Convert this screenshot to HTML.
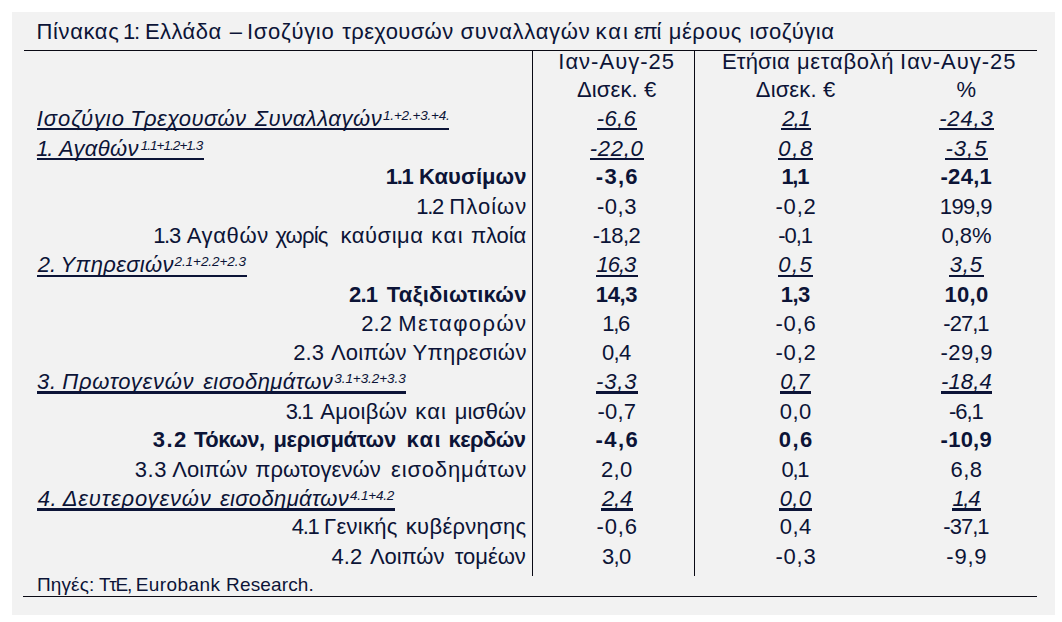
<!DOCTYPE html>
<html lang="el"><head><meta charset="utf-8"><title>Πίνακας 1</title>
<style>
html,body{margin:0;padding:0;background:#fff;}
body{width:1062px;height:622px;position:relative;overflow:hidden;font-family:"Liberation Sans", sans-serif;color:#0c1437;}
.panel{position:absolute;left:12px;top:12px;width:1043px;height:603px;background:#f2f2f2;}
.t{position:absolute;white-space:nowrap;height:30px;line-height:30px;margin:0;padding:0;}
.i{font-style:italic}.b{font-weight:bold}
.ln{position:absolute;background:#0a0a14;}
.ul{position:absolute;background:#0c1437;height:2.3px;}
</style></head><body>
<div class="panel"></div>
<div class="ln" style="left:24px;top:49.9px;width:1013px;height:1.1px"></div>
<div class="ln" style="left:23px;top:595.7px;width:1014px;height:1.6px"></div>
<div class="ln" style="left:532px;top:50px;width:1px;height:526px"></div>
<div class="ln" style="left:694.2px;top:50px;width:1px;height:526px"></div>
<div class="t" style="left:36.61px;top:17px;font-size:22px;letter-spacing:0.596px">Πίνακας</div>
<div class="t" style="left:123.05px;top:17px;font-size:22px;letter-spacing:-1.300px">1:</div>
<div class="t" style="left:145.01px;top:17px;font-size:22px;letter-spacing:0.427px">Ελλάδα</div>
<div class="t" style="left:229.69px;top:17px;font-size:22px;letter-spacing:0.000px">–</div>
<div class="t" style="left:246.89px;top:17px;font-size:22px;letter-spacing:0.720px">Ισοζύγιο</div>
<div class="t" style="left:342.21px;top:17px;font-size:22px;letter-spacing:0.367px">τρεχουσών</div>
<div class="t" style="left:460.52px;top:17px;font-size:22px;letter-spacing:0.692px">συναλλαγών</div>
<div class="t" style="left:595.40px;top:17px;font-size:22px;letter-spacing:2.043px">και</div>
<div class="t" style="left:634.10px;top:17px;font-size:22px;letter-spacing:-1.300px">επί</div>
<div class="t" style="left:668.70px;top:17px;font-size:22px;letter-spacing:0.569px">μέρους</div>
<div class="t" style="left:749.60px;top:17px;font-size:22px;letter-spacing:0.463px">ισοζύγια</div>
<div class="t" style="left:558.29px;top:47px;font-size:22px;letter-spacing:1.004px">Ιαν-Αυγ-25</div>
<div class="t" style="left:576.90px;top:75px;font-size:22px;letter-spacing:0.139px">Δισεκ. €</div>
<div class="t" style="left:721.91px;top:47px;font-size:22px;letter-spacing:0.195px">Ετήσια</div>
<div class="t" style="left:796.90px;top:47px;font-size:22px;letter-spacing:0.746px">μεταβολή</div>
<div class="t" style="left:900.09px;top:47px;font-size:22px;letter-spacing:0.960px">Ιαν-Αυγ-25</div>
<div class="t" style="left:755.80px;top:75px;font-size:22px;letter-spacing:0.139px">Δισεκ. €</div>
<div class="t" style="left:956.58px;top:75px;font-size:22px;letter-spacing:0.000px">%</div>
<div class="t" style="left:36.88px;top:570px;font-size:19px;letter-spacing:0.127px">Πηγές:</div>
<div class="t" style="left:99.00px;top:570px;font-size:19px;letter-spacing:-1.300px">ΤτΕ,</div>
<div class="t" style="left:135.68px;top:570px;font-size:19px;letter-spacing:0.426px">Eurobank</div>
<div class="t" style="left:226.08px;top:570px;font-size:19px;letter-spacing:0.143px">Research.</div>
<div class="t i" style="left:36.82px;top:104px;font-size:22px;letter-spacing:0.916px">Ισοζύγιο</div>
<div class="t i" style="left:130.16px;top:104px;font-size:22px;letter-spacing:0.343px">Τρεχουσών</div>
<div class="t i" style="left:254.78px;top:104px;font-size:22px;letter-spacing:0.567px">Συναλλαγών</div>
<div class="t i" style="left:383.00px;top:101px;font-size:13.5px;letter-spacing:-0.183px">1.+2.+3.+4.</div>
<div class="t i" style="left:36.25px;top:134px;font-size:22px;letter-spacing:-1.300px">1.</div>
<div class="t i" style="left:58.93px;top:134px;font-size:22px;letter-spacing:0.333px">Αγαθών</div>
<div class="t i" style="left:140.70px;top:131px;font-size:13.5px;letter-spacing:-0.960px">1.1+1.2+1.3</div>
<div class="t i" style="left:37.81px;top:250px;font-size:22px;letter-spacing:-0.117px">2.</div>
<div class="t i" style="left:60.51px;top:250px;font-size:22px;letter-spacing:0.360px">Υπηρεσιών</div>
<div class="t i" style="left:174.48px;top:247px;font-size:13.5px;letter-spacing:-0.058px">2.1+2.2+2.3</div>
<div class="t i" style="left:36.97px;top:367px;font-size:22px;letter-spacing:0.722px">3.</div>
<div class="t i" style="left:62.32px;top:367px;font-size:22px;letter-spacing:0.718px">Πρωτογενών</div>
<div class="t i" style="left:203.21px;top:367px;font-size:22px;letter-spacing:0.438px">εισοδημάτων</div>
<div class="t i" style="left:334.25px;top:364px;font-size:13.5px;letter-spacing:-0.065px">3.1+3.2+3.3</div>
<div class="t i" style="left:37.71px;top:484px;font-size:22px;letter-spacing:0.678px">4.</div>
<div class="t i" style="left:62.70px;top:484px;font-size:22px;letter-spacing:0.862px">Δευτερογενών</div>
<div class="t i" style="left:219.91px;top:484px;font-size:22px;letter-spacing:0.378px">εισοδημάτων</div>
<div class="t i" style="left:350.06px;top:481px;font-size:13.5px;letter-spacing:-0.186px">4.1+4.2</div>
<div class="t b" style="left:385.80px;top:162px;font-size:22px;letter-spacing:-1.300px">1.1</div>
<div class="t b" style="left:419.10px;top:162px;font-size:22px;letter-spacing:0.024px">Καυσίμων</div>
<div class="t" style="left:416.30px;top:192px;font-size:22px;letter-spacing:-1.300px">1.2</div>
<div class="t" style="left:449.31px;top:192px;font-size:22px;letter-spacing:1.035px">Πλοίων</div>
<div class="t" style="left:153.20px;top:221px;font-size:22px;letter-spacing:-1.300px">1.3</div>
<div class="t" style="left:186.73px;top:221px;font-size:22px;letter-spacing:0.627px">Αγαθών</div>
<div class="t" style="left:275.40px;top:221px;font-size:22px;letter-spacing:-0.778px">χωρίς</div>
<div class="t" style="left:340.50px;top:221px;font-size:22px;letter-spacing:0.531px">καύσιμα</div>
<div class="t" style="left:431.20px;top:221px;font-size:22px;letter-spacing:1.593px">και</div>
<div class="t" style="left:470.96px;top:221px;font-size:22px;letter-spacing:-0.117px">πλοία</div>
<div class="t b" style="left:349.02px;top:280px;font-size:22px;letter-spacing:-0.867px">2.1</div>
<div class="t b" style="left:386.83px;top:280px;font-size:22px;letter-spacing:0.238px">Ταξιδιωτικών</div>
<div class="t" style="left:361.36px;top:309px;font-size:22px;letter-spacing:0.015px">2.2</div>
<div class="t" style="left:398.31px;top:309px;font-size:22px;letter-spacing:1.407px">Μεταφορών</div>
<div class="t" style="left:293.36px;top:338px;font-size:22px;letter-spacing:0.015px">2.3</div>
<div class="t" style="left:331.03px;top:338px;font-size:22px;letter-spacing:0.111px">Λοιπών</div>
<div class="t" style="left:412.51px;top:338px;font-size:22px;letter-spacing:0.354px">Υπηρεσιών</div>
<div class="t" style="left:285.75px;top:397px;font-size:22px;letter-spacing:-1.300px">3.1</div>
<div class="t" style="left:320.23px;top:397px;font-size:22px;letter-spacing:0.259px">Αμοιβών</div>
<div class="t" style="left:415.30px;top:397px;font-size:22px;letter-spacing:1.143px">και</div>
<div class="t" style="left:454.80px;top:397px;font-size:22px;letter-spacing:-0.047px">μισθών</div>
<div class="t b" style="left:152.67px;top:425px;font-size:22px;letter-spacing:1.500px">3.2</div>
<div class="t b" style="left:194.03px;top:425px;font-size:22px;letter-spacing:-0.521px">Τόκων,</div>
<div class="t b" style="left:273.40px;top:425px;font-size:22px;letter-spacing:-0.329px">μερισμάτων</div>
<div class="t b" style="left:406.40px;top:425px;font-size:22px;letter-spacing:1.493px">και</div>
<div class="t b" style="left:448.60px;top:425px;font-size:22px;letter-spacing:-0.602px">κερδών</div>
<div class="t" style="left:134.71px;top:455px;font-size:22px;letter-spacing:0.541px">3.3</div>
<div class="t" style="left:172.23px;top:455px;font-size:22px;letter-spacing:0.091px">Λοιπών</div>
<div class="t" style="left:255.36px;top:455px;font-size:22px;letter-spacing:0.015px">πρωτογενών</div>
<div class="t" style="left:391.02px;top:455px;font-size:22px;letter-spacing:0.833px">εισοδημάτων</div>
<div class="t" style="left:291.80px;top:512px;font-size:22px;letter-spacing:-1.300px">4.1</div>
<div class="t" style="left:324.11px;top:512px;font-size:22px;letter-spacing:0.246px">Γενικής</div>
<div class="t" style="left:405.80px;top:512px;font-size:22px;letter-spacing:0.298px">κυβέρνησης</div>
<div class="t" style="left:331.50px;top:542px;font-size:22px;letter-spacing:0.043px">4.2</div>
<div class="t" style="left:369.93px;top:542px;font-size:22px;letter-spacing:-0.069px">Λοιπών</div>
<div class="t" style="left:454.71px;top:542px;font-size:22px;letter-spacing:-0.023px">τομέων</div>
<div class="t i" style="left:596.83px;top:104px;font-size:22px;letter-spacing:0.300px">-6,6</div>
<div class="t i" style="left:782.26px;top:104px;font-size:22px;letter-spacing:-1.009px">2,1</div>
<div class="t i" style="left:939.18px;top:104px;font-size:22px;letter-spacing:0.871px">-24,3</div>
<div class="t i" style="left:589.83px;top:134px;font-size:22px;letter-spacing:0.696px">-22,0</div>
<div class="t i" style="left:778.31px;top:134px;font-size:22px;letter-spacing:1.739px">0,8</div>
<div class="t i" style="left:945.38px;top:134px;font-size:22px;letter-spacing:1.039px">-3,5</div>
<div class="t b" style="left:595.87px;top:162px;font-size:22px;letter-spacing:1.248px">-3,6</div>
<div class="t b" style="left:781.45px;top:162px;font-size:22px;letter-spacing:-1.300px">1,1</div>
<div class="t b" style="left:940.47px;top:162px;font-size:22px;letter-spacing:0.301px">-24,1</div>
<div class="t" style="left:596.91px;top:192px;font-size:22px;letter-spacing:0.578px">-0,3</div>
<div class="t" style="left:775.51px;top:192px;font-size:22px;letter-spacing:0.793px">-0,2</div>
<div class="t" style="left:939.75px;top:192px;font-size:22px;letter-spacing:-0.585px">199,9</div>
<div class="t" style="left:592.86px;top:221px;font-size:22px;letter-spacing:-0.565px">-18,2</div>
<div class="t" style="left:778.21px;top:221px;font-size:22px;letter-spacing:-1.010px">-0,1</div>
<div class="t" style="left:941.46px;top:221px;font-size:22px;letter-spacing:-0.039px">0,8%</div>
<div class="t i" style="left:596.42px;top:250px;font-size:22px;letter-spacing:-0.978px">16,3</div>
<div class="t i" style="left:778.31px;top:250px;font-size:22px;letter-spacing:1.441px">0,5</div>
<div class="t i" style="left:949.77px;top:250px;font-size:22px;letter-spacing:0.861px">3,5</div>
<div class="t b" style="left:595.81px;top:280px;font-size:22px;letter-spacing:-0.383px">14,3</div>
<div class="t b" style="left:780.71px;top:280px;font-size:22px;letter-spacing:-0.524px">1,3</div>
<div class="t b" style="left:944.56px;top:280px;font-size:22px;letter-spacing:0.272px">10,0</div>
<div class="t" style="left:602.25px;top:309px;font-size:22px;letter-spacing:-1.300px">1,6</div>
<div class="t" style="left:775.51px;top:309px;font-size:22px;letter-spacing:0.778px">-0,6</div>
<div class="t" style="left:943.36px;top:309px;font-size:22px;letter-spacing:-0.975px">-27,1</div>
<div class="t" style="left:601.96px;top:338px;font-size:22px;letter-spacing:-0.630px">0,4</div>
<div class="t" style="left:775.51px;top:338px;font-size:22px;letter-spacing:0.793px">-0,2</div>
<div class="t" style="left:940.41px;top:338px;font-size:22px;letter-spacing:0.500px">-29,9</div>
<div class="t i" style="left:595.93px;top:367px;font-size:22px;letter-spacing:0.900px">-3,3</div>
<div class="t i" style="left:780.31px;top:367px;font-size:22px;letter-spacing:-0.661px">0,7</div>
<div class="t i" style="left:940.98px;top:367px;font-size:22px;letter-spacing:0.171px">-18,4</div>
<div class="t" style="left:597.41px;top:397px;font-size:22px;letter-spacing:0.259px">-0,7</div>
<div class="t" style="left:779.86px;top:397px;font-size:22px;letter-spacing:0.404px">0,0</div>
<div class="t" style="left:949.11px;top:397px;font-size:22px;letter-spacing:-1.077px">-6,1</div>
<div class="t b" style="left:595.57px;top:425px;font-size:22px;letter-spacing:1.448px">-4,6</div>
<div class="t b" style="left:778.86px;top:425px;font-size:22px;letter-spacing:1.400px">0,6</div>
<div class="t b" style="left:940.62px;top:425px;font-size:22px;letter-spacing:0.232px">-10,9</div>
<div class="t" style="left:601.06px;top:455px;font-size:22px;letter-spacing:0.254px">2,0</div>
<div class="t" style="left:781.58px;top:455px;font-size:22px;letter-spacing:-1.300px">0,1</div>
<div class="t" style="left:950.56px;top:455px;font-size:22px;letter-spacing:0.465px">6,8</div>
<div class="t i" style="left:602.11px;top:484px;font-size:22px;letter-spacing:-0.263px">2,4</div>
<div class="t i" style="left:779.81px;top:484px;font-size:22px;letter-spacing:0.267px">0,0</div>
<div class="t i" style="left:952.45px;top:484px;font-size:22px;letter-spacing:-1.300px">1,4</div>
<div class="t" style="left:596.51px;top:512px;font-size:22px;letter-spacing:0.845px">-0,6</div>
<div class="t" style="left:779.86px;top:512px;font-size:22px;letter-spacing:0.370px">0,4</div>
<div class="t" style="left:943.36px;top:512px;font-size:22px;letter-spacing:-0.975px">-37,1</div>
<div class="t" style="left:601.91px;top:542px;font-size:22px;letter-spacing:-0.570px">3,0</div>
<div class="t" style="left:775.51px;top:542px;font-size:22px;letter-spacing:0.778px">-0,3</div>
<div class="t" style="left:946.36px;top:542px;font-size:22px;letter-spacing:0.751px">-9,9</div>
<div class="ul" style="left:36.80px;top:127.85px;width:412.10px;height:2.3px"></div>
<div class="ul" style="left:36.80px;top:157.85px;width:167.00px;height:2.3px"></div>
<div class="ul" style="left:36.80px;top:274.95px;width:209.80px;height:2.1px"></div>
<div class="ul" style="left:36.80px;top:391.00px;width:369.50px;height:2.8px"></div>
<div class="ul" style="left:36.80px;top:508.00px;width:358.10px;height:3.0px"></div>
<div class="ul" style="left:596.50px;top:127.85px;width:40.60px;height:2.3px"></div>
<div class="ul" style="left:780.85px;top:127.85px;width:29.70px;height:2.3px"></div>
<div class="ul" style="left:938.85px;top:127.85px;width:55.30px;height:2.3px"></div>
<div class="ul" style="left:589.50px;top:157.85px;width:54.60px;height:2.3px"></div>
<div class="ul" style="left:777.90px;top:157.85px;width:35.60px;height:2.3px"></div>
<div class="ul" style="left:945.05px;top:157.85px;width:42.90px;height:2.3px"></div>
<div class="ul" style="left:595.80px;top:274.95px;width:42.00px;height:2.1px"></div>
<div class="ul" style="left:777.90px;top:274.95px;width:35.60px;height:2.1px"></div>
<div class="ul" style="left:949.20px;top:274.95px;width:34.60px;height:2.1px"></div>
<div class="ul" style="left:595.60px;top:391.00px;width:42.40px;height:2.8px"></div>
<div class="ul" style="left:779.90px;top:391.00px;width:31.60px;height:2.8px"></div>
<div class="ul" style="left:940.65px;top:391.00px;width:51.70px;height:2.8px"></div>
<div class="ul" style="left:600.70px;top:508.00px;width:32.20px;height:3.0px"></div>
<div class="ul" style="left:779.40px;top:508.00px;width:32.60px;height:3.0px"></div>
<div class="ul" style="left:951.83px;top:508.00px;width:29.33px;height:3.0px"></div>
</body></html>
